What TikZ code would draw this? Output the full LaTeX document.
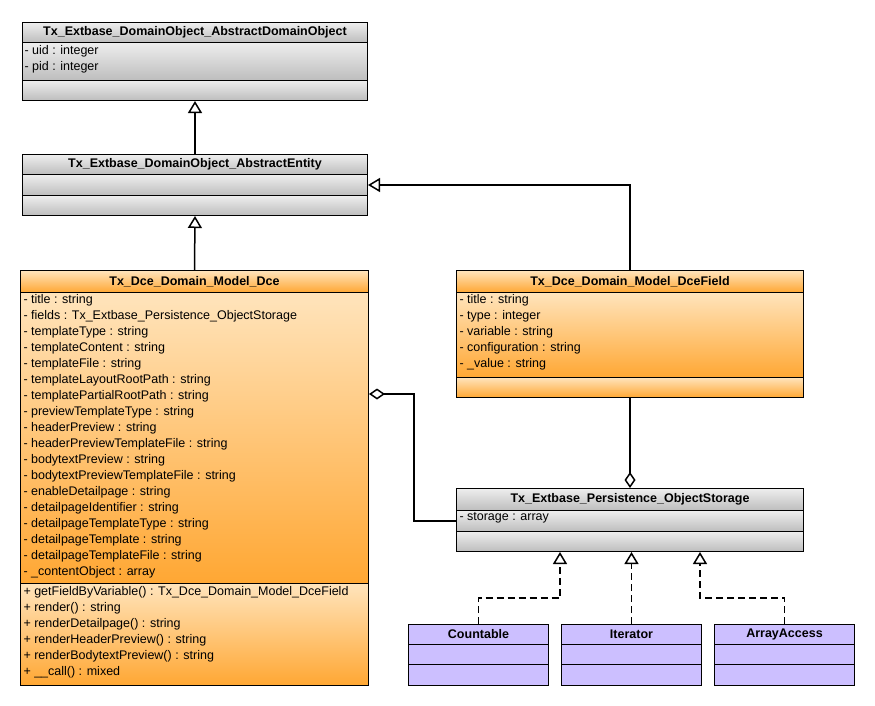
\documentclass[tikz,border=0pt]{standalone}
\usepackage{fontspec}
\setmainfont{Liberation Sans}
\usetikzlibrary{positioning,arrows.meta,shapes}

\definecolor{grayA}{HTML}{EEEEEE}
\definecolor{grayB}{HTML}{BDBDBD}
\definecolor{orA}{HTML}{FFE4BC}
\definecolor{orB}{HTML}{FFA733}
\definecolor{purp}{HTML}{CCBFFF}

\begin{document}
\begin{tikzpicture}[
    x=1pt,y=-1pt,line width=1pt,
    box/.style={draw,inner sep=0pt,anchor=north west},
    gray/.style={box,top color=grayA,bottom color=grayB},
    orng/.style={box,top color=orA,bottom color=orB},
    iface/.style={box,fill=purp},
    title/.style={font=\fontsize{12.5}{14}\selectfont\bfseries},
    attrs/.style={anchor=north west,align=left,inner sep=0pt,font=\fontsize{12.5}{16}\selectfont},
    inherit/.style={-{Triangle[open,length=12pt,width=14pt]},line width=1.5pt},
    realize/.style={inherit,dash pattern=on 7pt off 4pt},
    aggr/.style={{Diamond[open,length=16pt,width=11pt]}-,line width=1.5pt}
  ]
  \useasboundingbox (0,0) rectangle (875,705);
  % AbstractDomainObject
  \node[gray,minimum width=345,minimum height=20,title] (ado) at (22,22) {Tx\_Extbase\_DomainObject\_AbstractDomainObject};
  \node[gray,minimum width=345,minimum height=38] (adoA) at (22,42) {};
  \node[gray,minimum width=345,minimum height=20] (adoO) at (22,80) {};
  \node[attrs] at (24,45) {- uid : integer\\- pid : integer};
  % AbstractEntity
  \node[gray,minimum width=345,minimum height=20,title] (ae) at (22,154) {Tx\_Extbase\_DomainObject\_AbstractEntity};
  \node[gray,minimum width=345,minimum height=21] (aeA) at (22,174) {};
  \node[gray,minimum width=345,minimum height=20] (aeO) at (22,195) {};
  % Dce
  \node[orng,minimum width=348,minimum height=22,title] (dce) at (20,270) {Tx\_Dce\_Domain\_Model\_Dce};
  \node[orng,minimum width=348,minimum height=291] (dceA) at (20,292) {};
  \node[orng,minimum width=348,minimum height=102] (dceO) at (20,583) {};
  \node[attrs] at (23,294) {- title : string\\- fields : Tx\_Extbase\_Persistence\_ObjectStorage\\
    - templateType : string\\- templateContent : string\\- templateFile : string\\
    - templateLayoutRootPath : string\\- templatePartialRootPath : string\\
    - previewTemplateType : string\\- headerPreview : string\\- headerPreviewTemplateFile : string\\
    - bodytextPreview : string\\- bodytextPreviewTemplateFile : string\\- enableDetailpage : string\\
    - detailpageIdentifier : string\\- detailpageTemplateType : string\\- detailpageTemplate : string\\
    - detailpageTemplateFile : string\\- \_contentObject : array};
  \node[attrs] at (23,586) {+ getFieldByVariable() : Tx\_Dce\_Domain\_Model\_DceField\\+ render() : string\\
    + renderDetailpage() : string\\+ renderHeaderPreview() : string\\+ renderBodytextPreview() : string\\
    + \_\_call() : mixed};
  % DceField
  \node[orng,minimum width=347,minimum height=22,title] (fld) at (456,270) {Tx\_Dce\_Domain\_Model\_DceField};
  \node[orng,minimum width=347,minimum height=85] (fldA) at (456,292) {};
  \node[orng,minimum width=347,minimum height=20] (fldO) at (456,377) {};
  \node[attrs] at (459,294) {- title : string\\- type : integer\\- variable : string\\- configuration : string\\- \_value : string};
  % ObjectStorage
  \node[gray,minimum width=347,minimum height=22,title] (os) at (456,488) {Tx\_Extbase\_Persistence\_ObjectStorage};
  \node[gray,minimum width=347,minimum height=21] (osA) at (456,510) {};
  \node[gray,minimum width=347,minimum height=20] (osO) at (456,531) {};
  \node[attrs] at (459,512) {- storage : array};
  % interfaces
  \foreach \nm/\x/\txt in {cnt/408/Countable,itr/561/Iterator,arr/714/ArrayAccess}{
    \node[iface,minimum width=140,minimum height=20,title] (\nm) at (\x,624) {\txt};
    \node[iface,minimum width=140,minimum height=20] (\nm A) at (\x,644) {};
    \node[iface,minimum width=140,minimum height=21] (\nm O) at (\x,664) {};
  }
  % connectors
  \draw[inherit] (ae.north) -- (adoO.south);
  \draw[inherit] (dce.north) -- (aeO.south);
  \draw[inherit] (fld.north) |- (aeA.east);
  \draw[aggr] (dceA.east |- 0,394) -- (414,394) |- (osA.west);
  \draw[aggr] (os.north) -- (fldO.south);
  \draw[realize] (cnt.north) |- (560,598) -- (osO.south -| 560,0);
  \draw[realize] (itr.north) -- (osO.south -| itr.north);
  \draw[realize] (arr.north) |- (700,598) -- (osO.south -| 700,0);
\end{tikzpicture}
\end{document}
